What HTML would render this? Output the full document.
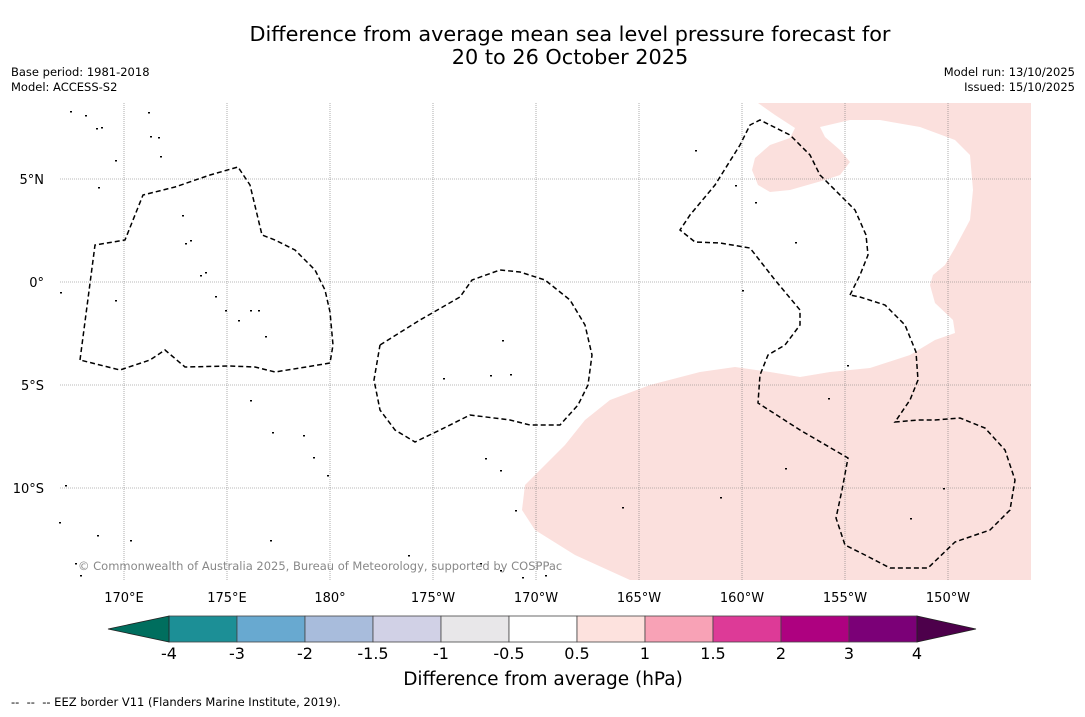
<!DOCTYPE html>
<html><head><meta charset="utf-8"><style>
body{margin:0;background:#fff;font-family:"DejaVu Sans","Liberation Sans",sans-serif;}
svg text{font-family:"DejaVu Sans","Liberation Sans",sans-serif;}
</style></head><body>
<svg id="chart" width="1085" height="713" viewBox="0 0 1085 713" xmlns="http://www.w3.org/2000/svg">
<rect width="1085" height="713" fill="#fff"/>
<text x="570" y="41" font-size="20.8" text-anchor="middle">Difference from average mean sea level pressure forecast for</text>
<text x="570" y="64" font-size="20.8" text-anchor="middle">20 to 26 October 2025</text>
<text x="11" y="76" font-size="11.5">Base period: 1981-2018</text>
<text x="11" y="91" font-size="11.5">Model: ACCESS-S2</text>
<text x="1075" y="76" font-size="11.5" text-anchor="end">Model run: 13/10/2025</text>
<text x="1075" y="91" font-size="11.5" text-anchor="end">Issued: 15/10/2025</text>
<g id="map">
<polygon fill="#fbe0dd" points="758,103 775,115 795,128 790,138 770,145 755,158 752,170 758,185 770,192 790,190 825,180 840,175 850,162 840,150 825,137 820,127 850,120 880,120 920,127 955,140 970,155 973,190 970,220 955,248 945,265 933,275 930,285 935,303 953,320 955,333 935,340 910,355 870,368 830,372 800,377 770,372 735,367 700,372 650,385 610,400 585,420 565,445 545,465 525,485 522,510 535,530 575,555 630,580 1031,580 1031,103"/>
<g id="grid"></g>
<g id="eez" fill="none" stroke="#000" stroke-width="1.5" stroke-dasharray="5,3">
<polyline points="80,360 95,245 125,240 143,195 175,187 210,175 238,167 250,185 262,235 275,240 295,250 315,270 325,290 330,312 333,345 330,363 300,368 275,372 255,367 230,366 185,367 165,350 150,360 120,370 80,360"/>
<polyline points="380,345 420,320 460,297 472,280 500,270 520,272 545,280 570,300 585,325 592,355 588,385 578,405 560,425 530,425 510,420 470,415 440,430 415,442 395,430 380,410 374,380 380,345"/>
<polyline points="850,295 860,275 868,255 866,235 855,210 835,190 820,175 810,155 790,135 760,120 750,125 740,145 715,185 690,215 680,230 695,242 720,243 750,248 775,280 800,310 800,325 785,345 768,355 760,375 758,403 800,430 848,458 842,490 836,518 845,545 865,555 890,568 928,568 955,542 990,530 1010,510 1015,480 1005,450 985,428 960,418 935,420 918,420 895,422 910,400 918,380 916,352 905,325 885,305 860,297 850,295"/>
</g>
<g id="islands" fill="#000"></g>
</g>
<text x="78" y="570" font-size="11.5" fill="#888">© Commonwealth of Australia 2025, Bureau of Meteorology, supported by COSPPac</text>
<g id="axes" font-size="13"></g>
<g id="cbar"></g>
<text x="543" y="685" font-size="18.5" text-anchor="middle">Difference from average (hPa)</text>
<text x="11" y="706" font-size="11.5" xml:space="preserve" style="white-space:pre">--  --  -- EEZ border V11 (Flanders Marine Institute, 2019).</text>
</svg>
<script>
const NS='http://www.w3.org/2000/svg';
const lonTicks=[170,175,180,185,190,195,200,205,210];
const lonLabels=['170°E','175°E','180°','175°W','170°W','165°W','160°W','155°W','150°W'];
const latTicks=[5,0,-5,-10];
const latLabels=['5°N','0°','5°S','10°S'];
const cbLevels=['-4','-3','-2','-1.5','-1','-0.5','0.5','1','1.5','2','3','4'];
const cbColors=['#1c8f96','#68a9d0','#a8bcdc','#d1d1e6','#e8e7e9','#ffffff','#fde2de','#f8a2b6','#dd3a97','#ae0180','#7b0077'];
const cbLow='#006e5e',cbHigh='#4d004b';
const X0=60,X1=1031,Y0=103,Y1=580;
const lonX=l=>124+(l-170)*20.6;
const latY=l=>282-l*20.6;
function mk(t,a,p){const e=document.createElementNS(NS,t);for(const k in a)e.setAttribute(k,a[k]);(p||document.getElementById('chart')).appendChild(e);return e;}
const grid=document.getElementById('grid'),axes=document.getElementById('axes');
lonTicks.forEach((l,i)=>{const x=lonX(l);
 const g=mk('line',{x1:x,x2:x,y1:Y0,y2:Y1,stroke:'#777','stroke-width':0.6,'stroke-dasharray':'1,1'},grid);
 
 const t=mk('text',{x:x,y:602,'text-anchor':'middle'},axes);t.textContent=lonLabels[i];
 });
latTicks.forEach((l,i)=>{const y=latY(l);
 const g=mk('line',{x1:X0,x2:X1,y1:y,y2:y,stroke:'#777','stroke-width':0.6,'stroke-dasharray':'1,1'},grid);
 
 const t=mk('text',{x:44,y:y+5,'text-anchor':'end'},axes);t.textContent=latLabels[i];
 });
const isl=document.getElementById('islands');
[[70,111],[85,115],[96,128],[101,127],[148,112],[150,136],[158,137],[160,156],[115,160],[98,187],[182,215],[185,243],[190,240],[200,275],[205,272],[215,296],[225,310],[238,320],[250,310],[258,310],[265,336],[250,400],[272,432],[303,435],[313,457],[327,475],[443,378],[490,375],[502,340],[510,374],[485,458],[500,470],[515,510],[622,507],[720,497],[755,202],[785,468],[795,242],[828,398],[847,365],[910,518],[943,488],[60,292],[115,300],[59,522],[65,485],[75,563],[80,575],[97,535],[130,540],[270,540],[408,555],[480,563],[500,570],[522,577],[545,575],[695,150],[735,185],[742,290]].forEach(p=>{
 const r=mk('rect',{x:p[0],y:p[1],width:2,height:1.5},isl);
 });
const cb=document.getElementById('cbar');
const cx0=169,cw=68,cy=616,ch=26;
cbColors.forEach((c,i)=>{const r=mk('rect',{x:cx0+i*cw,y:cy,width:cw,height:ch,fill:c,stroke:'#444','stroke-width':0.8},cb);
 });
const lo=mk('polygon',{points:`${cx0},${cy} 108,${cy+ch/2} ${cx0},${cy+ch}`,fill:cbLow,stroke:'#222','stroke-width':0.8},cb);

const xe=cx0+cbColors.length*cw;
const hi=mk('polygon',{points:`${xe},${cy} 976,${cy+ch/2} ${xe},${cy+ch}`,fill:cbHigh,stroke:'#222','stroke-width':0.8},cb);

cbLevels.forEach((v,i)=>{const t=mk('text',{x:cx0+i*cw,y:659,'font-size':16,'text-anchor':'middle'},cb);t.textContent=v;
 });
</script>
</body></html>
